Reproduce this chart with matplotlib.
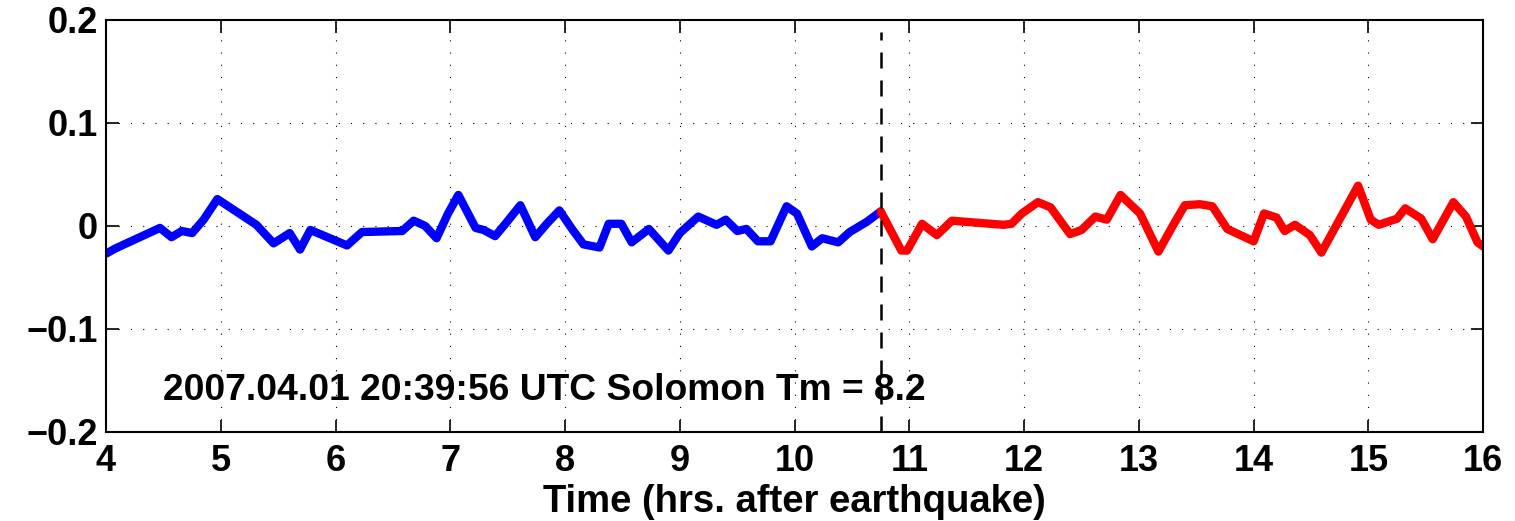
import matplotlib
matplotlib.use("Agg")
from matplotlib import pyplot as plt

plt.rcParams['font.family'] = ['Liberation Sans', 'DejaVu Sans']
plt.rcParams['font.weight'] = 'bold'

# time (hrs after earthquake) and amplitude, before the arrival marker
t_before = [4.0, 4.08, 4.47, 4.57, 4.66, 4.75, 4.85, 4.97, 5.31, 5.46, 5.60, 5.69,
            5.78, 6.10, 6.23, 6.58, 6.68, 6.78, 6.88, 6.98, 7.07, 7.22, 7.29, 7.39,
            7.48, 7.61, 7.74, 7.84, 7.95, 8.06, 8.16, 8.30, 8.38, 8.49, 8.58, 8.73,
            8.90, 9.00, 9.16, 9.32, 9.40, 9.50, 9.58, 9.68, 9.79, 9.93, 10.02, 10.15,
            10.24, 10.38, 10.48, 10.63, 10.75]
v_before = [-0.027, -0.022, -0.002, -0.011, -0.005, -0.007, 0.006, 0.026, 0.001, -0.017, -0.007, -0.023,
            -0.004, -0.019, -0.006, -0.005, 0.005, 0.0, -0.012, 0.012, 0.030, -0.002, -0.004, -0.010,
            0.002, 0.020, -0.011, 0.002, 0.015, -0.003, -0.018, -0.021, 0.002, 0.002, -0.016, -0.003,
            -0.024, -0.007, 0.009, 0.001, 0.006, -0.005, -0.003, -0.015, -0.015, 0.019, 0.012, -0.020,
            -0.012, -0.016, -0.006, 0.004, 0.014]

# after the arrival marker
t_after = [10.75, 10.93, 10.98, 11.11, 11.24, 11.37, 11.82, 11.89, 11.98, 12.12, 12.23, 12.40,
           12.50, 12.62, 12.72, 12.84, 13.01, 13.17, 13.30, 13.40, 13.53, 13.64, 13.77, 14.00,
           14.09, 14.20, 14.27, 14.36, 14.49, 14.59, 14.91, 15.02, 15.09, 15.25, 15.32, 15.46,
           15.56, 15.74, 15.85, 15.95, 16.0]
v_after = [0.014, -0.024, -0.024, 0.002, -0.009, 0.005, 0.001, 0.002, 0.012, 0.023, 0.018, -0.008,
           -0.004, 0.009, 0.006, 0.030, 0.012, -0.025, 0.001, 0.020, 0.021, 0.019, -0.003, -0.015,
           0.012, 0.008, -0.005, 0.001, -0.009, -0.026, 0.039, 0.006, 0.001, 0.007, 0.017, 0.007,
           -0.013, 0.023, 0.009, -0.016, -0.020]

t_arrival = 10.75
label = '2007.04.01 20:39:56 UTC Solomon Tm = 8.2'

fig = plt.figure(figsize=(15.15, 5.21), dpi=100)
ax = fig.add_axes([0.070, 0.171, 0.909, 0.791])

ax.plot(t_before, v_before, color='#0000ff', linewidth=6, solid_joinstyle='round', solid_capstyle='round')
ax.plot(t_after, v_after, color='#ff0000', linewidth=6, solid_joinstyle='round', solid_capstyle='round')
ax.axvline(t_arrival, ymax=0.97, color='black', linestyle=(0, (6.4, 4.8)), linewidth=1.8)

ax.set_xlim(4, 16)
ax.set_ylim(-0.2, 0.2)
ax.set_xticks(range(4, 17))
ax.set_yticks([-0.2, -0.1, 0, 0.1, 0.2])
ax.set_yticklabels(['\u22120.2', '\u22120.1', '0', '0.1', '0.2'])
ax.grid(True, color='black', linestyle=(0, (1, 10)), linewidth=0.8)
ax.tick_params(direction='in', length=9, width=1.2, top=True, right=True, labelsize=26)
ax.tick_params(axis='x', pad=9)
ax.tick_params(axis='y', pad=6)
for s in ax.spines.values():
    s.set_linewidth(1.5)

ax.set_xlabel('Time (hrs. after earthquake)', fontsize=27.5, fontweight='bold', labelpad=3)
ax.text(4.5, -0.16, label, fontsize=26.8, fontweight='bold', va='center')

fig.savefig('out.png', dpi=100)
plt.close(fig)
